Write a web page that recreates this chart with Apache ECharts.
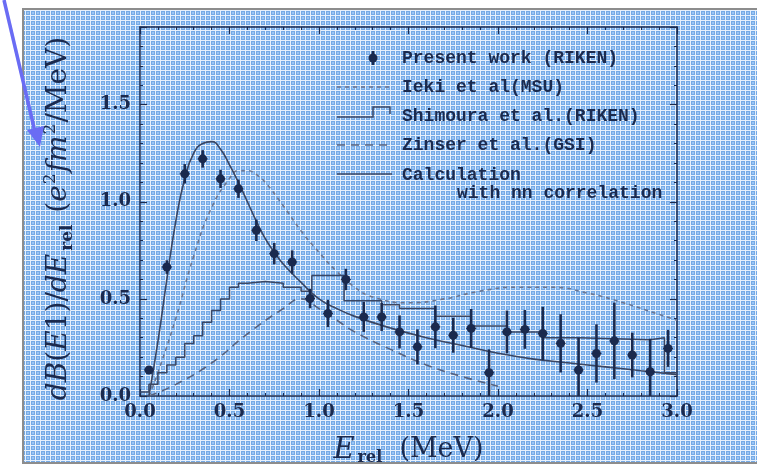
<!DOCTYPE html>
<html>
<head>
<meta charset="utf-8">
<script src="https://cdn.jsdelivr.net/npm/echarts@6/dist/echarts.min.js"></script>
<style>
  html, body { margin: 0; padding: 0; background: #ffffff; }
  #chart { width: 757px; height: 465px; }
</style>
</head>
<body>
<div id="chart"></div>
<script>
// Measured E1 strength: relative energy (MeV), dB(E1)/dE_rel, statistical error
const energy = [0.05, 0.15, 0.25, 0.35, 0.45, 0.55, 0.65, 0.75, 0.85, 0.95,
                1.05, 1.15, 1.25, 1.35, 1.45, 1.55, 1.65, 1.75, 1.85, 1.95,
                2.05, 2.15, 2.25, 2.35, 2.45, 2.55, 2.65, 2.75, 2.85, 2.95];
const strength = [0.134, 0.664, 1.144, 1.221, 1.118, 1.067, 0.853, 0.733, 0.690, 0.502,
                  0.425, 0.600, 0.407, 0.407, 0.330, 0.253, 0.356, 0.313, 0.348, 0.120,
                  0.330, 0.343, 0.322, 0.271, 0.134, 0.219, 0.284, 0.211, 0.125, 0.245];
const strengthErr = [0.017, 0.035, 0.050, 0.045, 0.047, 0.047, 0.055, 0.055, 0.060, 0.050,
                     0.070, 0.055, 0.077, 0.072, 0.085, 0.090, 0.110, 0.090, 0.100, 0.120,
                     0.110, 0.100, 0.137, 0.150, 0.165, 0.150, 0.197, 0.115, 0.170, 0.095];

// Three-body calculation with nn correlation
const calcCurve = [[0.05, 0], [0.1, 0.28], [0.15, 0.6], [0.2, 0.9], [0.25, 1.12], [0.3, 1.25],
                   [0.35, 1.30], [0.4, 1.31], [0.45, 1.27], [0.5, 1.19], [0.55, 1.10], [0.6, 1.0],
                   [0.65, 0.9], [0.7, 0.81], [0.75, 0.74], [0.8, 0.68], [0.9, 0.585], [1.0, 0.50],
                   [1.1, 0.45], [1.2, 0.41], [1.4, 0.35], [1.6, 0.30], [1.8, 0.26], [2.0, 0.22],
                   [2.2, 0.19], [2.4, 0.17], [2.6, 0.15], [2.8, 0.13], [3.0, 0.11]];

// Ieki et al. (MSU)
const iekiCurve = [[0.05, 0], [0.1, 0.12], [0.2, 0.40], [0.3, 0.72], [0.4, 0.97], [0.5, 1.12],
                   [0.55, 1.16], [0.6, 1.16], [0.65, 1.14], [0.7, 1.10], [0.8, 0.98], [0.9, 0.85],
                   [1.0, 0.74], [1.1, 0.64], [1.2, 0.56], [1.3, 0.51], [1.5, 0.48], [1.7, 0.50],
                   [1.9, 0.54], [2.1, 0.56], [2.3, 0.56], [2.5, 0.53], [2.7, 0.48], [2.9, 0.42], [3.0, 0.39]];

// Zinser et al. (GSI)
const zinserCurve = [[0.05, 0], [0.2, 0.06], [0.4, 0.17], [0.6, 0.32], [0.8, 0.45], [0.9, 0.50],
                     [1.0, 0.45], [1.1, 0.39], [1.2, 0.33], [1.4, 0.24], [1.6, 0.16], [1.8, 0.10],
                     [2.0, 0.05]];

// Shimoura et al. (RIKEN) histogram: left bin edge, height
const shimouraEdges = [0.0, 0.05, 0.1, 0.15, 0.2, 0.25, 0.3, 0.35, 0.4, 0.45, 0.5, 0.55,
                       0.6, 0.7, 0.8, 0.9, 0.96, 1.14, 1.35, 1.45, 1.65, 1.85, 2.05, 2.25,
                       2.45, 2.85, 2.93, 3.0];
const shimouraHeights = [0.02, 0.06, 0.12, 0.16, 0.20, 0.27, 0.31, 0.38, 0.44, 0.50, 0.56, 0.58,
                         0.59, 0.58, 0.56, 0.54, 0.62, 0.49, 0.47, 0.45, 0.41, 0.36, 0.33, 0.30,
                         0.29, 0.30, 0.12, 0.12];

// Axis ranges and tick spacing
const xRange = [0, 3.0];
const yRange = [0, 1.9];
const tickStep = 0.5;

const ink = '#1b2a4e';
const curveInk = '#3a4663';

// Blue cross-hatched paper texture
function paperPattern() {
  const c = document.createElement('canvas');
  c.width = 5; c.height = 5;
  const g = c.getContext('2d');
  g.fillStyle = '#74aae7';
  g.fillRect(0, 0, 5, 5);
  g.fillStyle = '#9cc4f2';
  g.fillRect(2, 2, 2, 2);
  g.fillStyle = '#e6f0fc';
  g.fillRect(0, 0, 5, 1);
  g.fillRect(0, 0, 1, 5);
  return c;
}

const chart = echarts.init(document.getElementById('chart'), null, { renderer: 'canvas' });

const labelFont = { fontFamily: 'DejaVu Serif', fontWeight: 'bold', fontSize: 18, color: ink };

function stepData() {
  return shimouraEdges.map((e, i) => [e, shimouraHeights[i]]);
}

const legendFont = 'bold 18px "Liberation Mono"';

const option = {
  animation: false,
  backgroundColor: 'transparent',
  grid: { left: 140, top: 27, width: 537, height: 369, show: false, outerBoundsMode: 'none', containLabel: false },
  xAxis: [{
    type: 'value', min: xRange[0], max: xRange[1], interval: tickStep,
    axisLine: { show: true, onZero: false, lineStyle: { color: ink, width: 1.5 } },
    axisTick: { show: true, inside: true, length: 7, lineStyle: { color: ink, width: 1.2 } },
    minorTick: { show: true, splitNumber: 5, length: 3, lineStyle: { color: ink, width: 1 } },
    splitLine: { show: false },
    axisLabel: Object.assign({ margin: 7, formatter: v => v.toFixed(1) }, labelFont),
    name: '{it|E}{sub|rel}{rm|  (MeV)}',
    nameLocation: 'middle', nameGap: 38,
    nameTextStyle: {
      rich: {
        it: { fontFamily: 'DejaVu Serif', fontStyle: 'italic', fontSize: 29, color: ink },
        sub: { fontFamily: 'DejaVu Serif', fontWeight: 'bold', fontSize: 16, color: ink, padding: [16, 0, 0, 3] },
        rm: { fontFamily: 'DejaVu Serif', fontSize: 27, color: ink }
      }
    }
  }, {
    type: 'value', position: 'top', min: xRange[0], max: xRange[1], interval: tickStep,
    axisLine: { show: true, onZero: false, lineStyle: { color: ink, width: 1.5 } },
    axisTick: { show: true, inside: true, length: 7, lineStyle: { color: ink, width: 1.2 } },
    minorTick: { show: true, splitNumber: 5, length: 3, lineStyle: { color: ink, width: 1 } },
    axisLabel: { show: false }, splitLine: { show: false }
  }],
  yAxis: [{
    type: 'value', min: yRange[0], max: yRange[1], interval: tickStep,
    axisLine: { show: true, onZero: false, lineStyle: { color: ink, width: 1.5 } },
    axisTick: { show: true, inside: true, length: 7, lineStyle: { color: ink, width: 1.2 } },
    minorTick: { show: true, splitNumber: 5, length: 3, lineStyle: { color: ink, width: 1 } },
    splitLine: { show: false },
    axisLabel: Object.assign({ margin: 9, formatter: v => v.toFixed(1), showMaxLabel: false }, labelFont),
    name: '{it|dB}{rm|(}{it|E}{rm|1)/}{it|dE}{sub|rel}{rm| (}{it|e}{sup|2}{it|fm}{sup|2}{rm|/MeV)}',
    nameLocation: 'middle', nameRotate: 90, nameGap: 64,
    nameTextStyle: {
      padding: [0, 14, 0, 0],
      rich: {
        it: { fontFamily: 'DejaVu Serif', fontStyle: 'italic', fontSize: 28, color: ink },
        rm: { fontFamily: 'DejaVu Serif', fontSize: 28, color: ink },
        sub: { fontFamily: 'DejaVu Serif', fontWeight: 'bold', fontSize: 17, color: ink, padding: [17, 3, 0, 3] },
        sup: { fontFamily: 'DejaVu Serif', fontSize: 17, color: ink, padding: [0, 1, 17, 1] }
      }
    }
  }, {
    type: 'value', position: 'right', min: yRange[0], max: yRange[1], interval: tickStep,
    axisLine: { show: true, onZero: false, lineStyle: { color: ink, width: 1.5 } },
    axisTick: { show: true, inside: true, length: 7, lineStyle: { color: ink, width: 1.2 } },
    minorTick: { show: true, splitNumber: 5, length: 3, lineStyle: { color: ink, width: 1 } },
    axisLabel: { show: false }, splitLine: { show: false }
  }],
  series: [
    {
      name: 'Zinser et al.(GSI)', type: 'line', data: zinserCurve, smooth: true, symbol: 'none',
      lineStyle: { color: '#56627f', width: 1.6, type: [8, 6] }, z: 3
    },
    {
      name: 'Ieki et al(MSU)', type: 'line', data: iekiCurve, smooth: true, symbol: 'none',
      lineStyle: { color: '#6b7691', width: 1.6, type: [4, 4] }, z: 3
    },
    {
      name: 'Shimoura et al.(RIKEN)', type: 'line', data: stepData(), step: 'end', symbol: 'none',
      lineStyle: { color: curveInk, width: 1.5 }, z: 4
    },
    {
      name: 'Calculation with nn correlation', type: 'line', data: calcCurve, smooth: true, symbol: 'none',
      lineStyle: { color: curveInk, width: 1.6 }, z: 4
    },
    {
      name: 'Present work (RIKEN)', type: 'custom', z: 6,
      data: energy.map((e, i) => [e, strength[i], strengthErr[i]]),
      renderItem: function (params, api) {
        const x = api.value(0), y = api.value(1), err = api.value(2);
        const c = api.coord([x, y]);
        const lo = api.coord([x, Math.max(yRange[0], y - err)]);
        const hi = api.coord([x, y + err]);
        return {
          type: 'group',
          children: [
            { type: 'line', shape: { x1: lo[0], y1: lo[1], x2: hi[0], y2: hi[1] },
              style: { stroke: ink, lineWidth: 2.6 } },
            { type: 'circle', shape: { cx: c[0], cy: c[1], r: 4.5 }, style: { fill: ink } },
            { type: 'line', shape: { x1: c[0] - 5, y1: c[1], x2: c[0] + 5, y2: c[1] },
              style: { stroke: ink, lineWidth: 1 } }
          ]
        };
      }
    }
  ],
  graphic: [
    // paper background
    { type: 'rect', z: -100, shape: { x: 23, y: 9, width: 740, height: 454 },
      style: { fill: { image: paperPattern(), repeat: 'repeat' }, stroke: '#8d8d8d', lineWidth: 2 } },
    // pointer arrow
    { type: 'line', z: 100, shape: { x1: 4, y1: 0, x2: 35, y2: 132 },
      style: { stroke: '#6a6cf4', lineWidth: 3.5 } },
    { type: 'polygon', z: 100, shape: { points: [[27, 130], [44, 126], [40, 147]] },
      style: { fill: '#6a6cf4' } },
    // legend
    { type: 'group', z: 50, children: [
      { type: 'line', shape: { x1: 373, y1: 51, x2: 373, y2: 65 }, style: { stroke: ink, lineWidth: 2.6 } },
      { type: 'circle', shape: { cx: 373, cy: 58, r: 4.5 }, style: { fill: ink } },
      { type: 'text', x: 402, y: 58, style: { text: 'Present work (RIKEN)', font: legendFont, fill: ink, verticalAlign: 'middle' } },

      { type: 'line', shape: { x1: 337, y1: 87, x2: 390, y2: 87 }, style: { stroke: '#6b7691', lineWidth: 1.6, lineDash: [4, 4] } },
      { type: 'text', x: 402, y: 87, style: { text: 'Ieki et al(MSU)', font: legendFont, fill: ink, verticalAlign: 'middle' } },

      { type: 'polyline', shape: { points: [[337, 117], [373, 117], [373, 107], [390, 107], [390, 114]] },
        style: { stroke: curveInk, lineWidth: 1.5, fill: null } },
      { type: 'text', x: 402, y: 116, style: { text: 'Shimoura et al.(RIKEN)', font: legendFont, fill: ink, verticalAlign: 'middle' } },

      { type: 'line', shape: { x1: 337, y1: 145, x2: 390, y2: 145 }, style: { stroke: '#56627f', lineWidth: 1.6, lineDash: [8, 6] } },
      { type: 'text', x: 402, y: 145, style: { text: 'Zinser et al.(GSI)', font: legendFont, fill: ink, verticalAlign: 'middle' } },

      { type: 'line', shape: { x1: 337, y1: 174, x2: 392, y2: 174 }, style: { stroke: curveInk, lineWidth: 1.6 } },
      { type: 'text', x: 402, y: 175, style: { text: 'Calculation', font: legendFont, fill: ink, verticalAlign: 'middle' } },
      { type: 'text', x: 457, y: 193, style: { text: 'with nn correlation', font: legendFont, fill: ink, verticalAlign: 'middle' } }
    ] }
  ]
};

chart.setOption(option);
</script>
</body>
</html>
